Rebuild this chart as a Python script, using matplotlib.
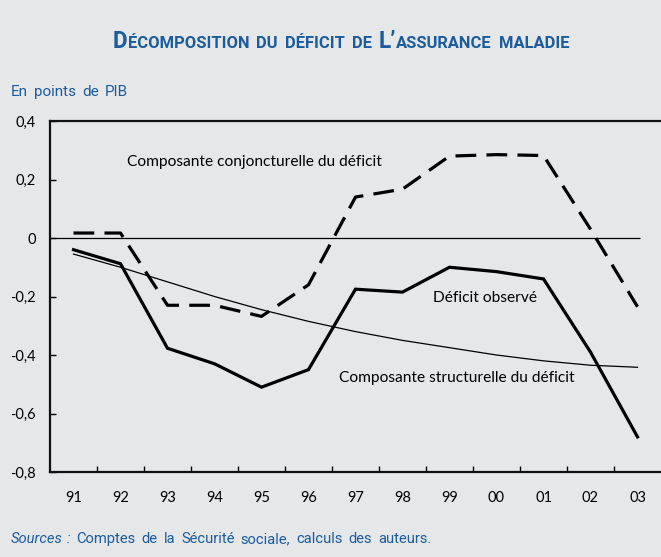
import matplotlib
matplotlib.use("Agg")
import matplotlib.pyplot as plt
import numpy as np

years = ["91", "92", "93", "94", "95", "96", "97", "98", "99", "00", "01", "02", "03"]
deficit_observe = [-0.04, -0.088, -0.377, -0.43, -0.51, -0.45, -0.175, -0.185, -0.10, -0.115, -0.14, -0.39, -0.68]
conjoncturelle = [0.017, 0.017, -0.23, -0.23, -0.268, -0.16, 0.14, 0.167, 0.28, 0.285, 0.282, 0.03, -0.235]
structurelle = [-0.055, -0.10, -0.15, -0.20, -0.245, -0.285, -0.32, -0.35, -0.375, -0.40, -0.42, -0.435, -0.442]
yticks = [0.4, 0.2, 0.0, -0.2, -0.4, -0.6, -0.8]
ytick_labels = ["0,4", "0,2", "0", "-0,2", "-0,4", "-0,6", "-0,8"]

BG = "#e6e7e9"
BLUE = "#1b5c9e"
NARROW = ["Roboto", "DejaVu Sans"]
BODY = ["Lato", "DejaVu Sans"]

W, H = 661, 557
fig = plt.figure(figsize=(W/100, H/100), dpi=100, facecolor=BG)
ax = fig.add_axes([50/W, 1-472/H, 611/W, 351/H])
ax.set_facecolor(BG)

x = np.arange(len(years))
ax.plot(x, structurelle, color="black", lw=0.9)
ax.plot(x, deficit_observe, color="black", lw=2.3, solid_joinstyle="miter")
ax.plot(x, conjoncturelle, color="black", lw=2.3, dashes=(6.5, 3.2))
ax.hlines(0, -0.5, 12.05, color="black", lw=0.9)

ax.set_xlim(-0.5, 12.5)
ax.set_ylim(-0.8, 0.4)
ax.set_xticks(x)
ax.set_xticklabels(years, fontfamily=BODY, fontsize=10.5)
ax.set_xticks(np.arange(0.5, 12.0, 1.0), minor=True)
ax.tick_params(axis="x", which="major", length=0, pad=14)
ax.tick_params(axis="x", which="minor", direction="in", length=4, width=1)
ax.set_yticks(yticks)
ax.set_yticklabels(ytick_labels, fontfamily=BODY, fontsize=10.5)
ax.tick_params(axis="y", direction="in", length=4, width=1, pad=10)

for s in ["left", "bottom", "top"]:
    ax.spines[s].set_linewidth(1.6)
    ax.spines[s].set_color("#111111")
ax.spines["right"].set_visible(False)

ax.text(1.14, 0.26, "Composante conjoncturelle du déficit", fontfamily=BODY, fontsize=11.2, va="center", ha="left")
ax.text(7.64, -0.205, "Déficit observé", fontfamily=BODY, fontsize=11.2, va="center", ha="left")
ax.text(5.64, -0.48, "Composante structurelle du déficit", fontfamily=BODY, fontsize=11.2, va="center", ha="left")


def place(pieces, x0_px, base_px, target_w=None, center=None):
    """pieces: list of (text, size, kwargs, gap_after_px)."""
    def draw(scale):
        arts = []
        for txt, size, kw, gap in pieces:
            t = fig.text(0, 1-base_px/H, txt, fontsize=size*scale, va="baseline", ha="left", color=BLUE, **kw)
            arts.append((t, gap))
        fig.canvas.draw()
        widths = [t.get_window_extent().width for t, _ in arts]
        return arts, widths
    scale = 1.0
    arts, widths = draw(scale)
    total = sum(widths) + sum(g for _, g in arts[:-1])
    if target_w:
        for t, _ in arts:
            t.remove()
        gaps = sum(g for _, g in arts[:-1])
        scale = (target_w - gaps) / (total - gaps)
        arts, widths = draw(scale)
        total = sum(widths) + sum(g for _, g in arts[:-1])
    start = x0_px if center is None else center - total/2
    xc = start
    for (t, gap), w in zip(arts, widths):
        t.set_x(xc / W)
        xc += w + gap


kb = dict(fontweight="bold", fontfamily=NARROW)
title = [("D", 15, kb, 0), ("ÉCOMPOSITION", 11, kb, 7), ("DU", 11, kb, 7), ("DÉFICIT", 11, kb, 7),
         ("DE", 11, kb, 7), ("L’", 15, kb, 0), ("ASSURANCE", 11, kb, 7), ("MALADIE", 11, kb, 0)]
place(title, 0, 48, target_w=457, center=341)

kn = dict(fontfamily=NARROW)
place([("En", 12, kn, 6), ("points", 12, kn, 6), ("de", 12, kn, 6), ("PIB", 12, kn, 0)], 11, 96, target_w=117)

ki = dict(fontfamily=NARROW, fontstyle="italic")
src_words = ["Comptes", "de", "la", "Sécurité", "sociale,", "calculs", "des", "auteurs."]
src = [("Sources", 12, ki, 4), (":", 12, ki, 6)] + [(w, 12, kn, 6) for w in src_words]
src[-1] = (src_words[-1], 12, kn, 0)
place(src, 11, 543, target_w=421)

fig.savefig("out.png", dpi=100, facecolor=BG)
